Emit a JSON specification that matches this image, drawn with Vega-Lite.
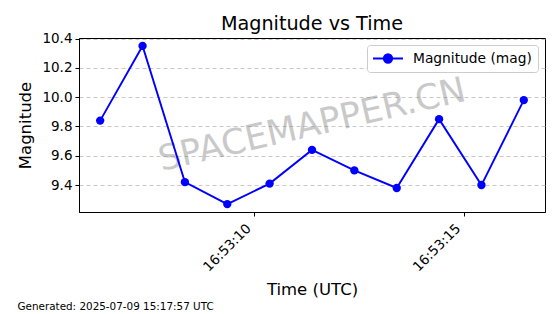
{
  "$schema": "https://vega.github.io/schema/vega-lite/v6.json",
  "autosize": {"type": "none"},
  "padding": {"left": 79, "top": 38, "right": 15, "bottom": 102},
  "width": 466,
  "height": 174,
  "background": "white",
  "title": {"text": "Magnitude vs Time", "fontSize": 19.2, "fontWeight": "normal", "offset": -3, "anchor": "middle", "color": "black", "font": "DejaVu Sans"},
  "layer": [
    {
      "data": {"values": [{"ax": 0.5, "mag": 9.81, "label": "SPACEMAPPER.CN"}]},
      "mark": {"type": "text", "angle": 347, "fontSize": 35, "color": "#808080", "opacity": 0.42, "font": "DejaVu Sans", "align": "center", "baseline": "middle"},
      "encoding": {
        "x": {"field": "ax", "type": "quantitative", "scale": {"domain": [0, 1], "nice": false, "zero": false},
          "axis": {"orient": "bottom", "title": "Generated: 2025-07-09 15:17:57 UTC", "labels": false, "ticks": false, "domain": false, "grid": false,
            "titleX": -62, "titleY": 97, "titleAnchor": "start", "titleAlign": "left", "titleBaseline": "alphabetic", "titleFontSize": 10.4, "titleAngle": 0}},
        "y": {"field": "mag", "type": "quantitative",
          "scale": {"domain": [9.216, 10.404], "nice": false, "zero": false},
          "axis": {"title": "Magnitude", "values": [9.4, 9.6, 9.8, 10.0, 10.2, 10.4], "format": ".1f", "titlePadding": 8, "labelOverlap": false}},
        "text": {"field": "label"}
      }
    },
    {
      "data": {"values": [
        {"t": "2025-07-09T16:53:06.321Z", "mag": 9.84},
        {"t": "2025-07-09T16:53:07.332Z", "mag": 10.35},
        {"t": "2025-07-09T16:53:08.342Z", "mag": 9.42},
        {"t": "2025-07-09T16:53:09.353Z", "mag": 9.27},
        {"t": "2025-07-09T16:53:10.363Z", "mag": 9.41},
        {"t": "2025-07-09T16:53:11.374Z", "mag": 9.64},
        {"t": "2025-07-09T16:53:12.384Z", "mag": 9.50},
        {"t": "2025-07-09T16:53:13.395Z", "mag": 9.38},
        {"t": "2025-07-09T16:53:14.405Z", "mag": 9.85},
        {"t": "2025-07-09T16:53:15.416Z", "mag": 9.40},
        {"t": "2025-07-09T16:53:16.426Z", "mag": 9.98}
      ]},
      "encoding": {
        "x": {"field": "t", "type": "temporal",
          "scale": {"type": "utc", "domain": [
            {"year": 2025, "month": 7, "date": 9, "hours": 16, "minutes": 53, "seconds": 5, "milliseconds": 816, "utc": true},
            {"year": 2025, "month": 7, "date": 9, "hours": 16, "minutes": 53, "seconds": 16, "milliseconds": 932, "utc": true}
          ]},
          "axis": {"orient": "bottom", "title": "Time (UTC)", "format": "%H:%M:%S", "labelAngle": -45, "labelAlign": "right", "labelBaseline": "middle",
            "labelOffset": -6, "labelPadding": 10,
            "values": [
              {"year": 2025, "month": 7, "date": 9, "hours": 16, "minutes": 53, "seconds": 10, "utc": true},
              {"year": 2025, "month": 7, "date": 9, "hours": 16, "minutes": 53, "seconds": 15, "utc": true}
            ], "titlePadding": 8}},
        "y": {"field": "mag", "type": "quantitative",
          "scale": {"domain": [9.216, 10.404], "nice": false, "zero": false},
          "axis": {"title": "Magnitude", "values": [9.4, 9.6, 9.8, 10.0, 10.2, 10.4], "format": ".1f", "titlePadding": 8, "labelOverlap": false}}
      },
      "layer": [
        {
          "mark": {"type": "line", "strokeWidth": 1.9},
          "encoding": {
            "color": {"datum": "Magnitude (mag)", "type": "nominal",
              "scale": {"range": ["blue"]},
              "legend": {"title": null, "orient": "top-right", "offset": 7, "strokeColor": "#cccccc", "fillColor": "white", "cornerRadius": 3, "padding": 5.5,
                "labelFontSize": 13.8, "labelFont": "DejaVu Sans", "labelColor": "black",
                "symbolType": "M-2.14,0H2.14M0.6,0A0.6,0.6,0,1,1,-0.6,0A0.6,0.6,0,1,1,0.6,0Z",
                "symbolSize": 196, "symbolStrokeWidth": 1.9, "symbolFillColor": "blue", "symbolStrokeColor": "blue", "symbolOffset": 7.5, "labelOffset": 17}}
          }
        },
        {
          "mark": {"type": "point", "filled": true, "size": 70, "color": "blue", "opacity": 1}
        }
      ]
    }
  ],
  "resolve": {"scale": {"x": "independent"}, "axis": {"x": "independent"}},
  "config": {
    "font": "DejaVu Sans",
    "view": {"stroke": "black", "strokeWidth": 1},
    "axis": {"domainColor": "black", "tickColor": "black", "labelColor": "black", "titleColor": "black", "labelFontSize": 13.5, "titleFontSize": 16.5, "titleFontWeight": "normal", "labelFont": "DejaVu Sans", "titleFont": "DejaVu Sans", "tickSize": 4, "labelPadding": 3, "grid": true, "gridColor": "#b0b0b0", "gridOpacity": 0.7, "gridDash": [4, 3]}
  }
}
